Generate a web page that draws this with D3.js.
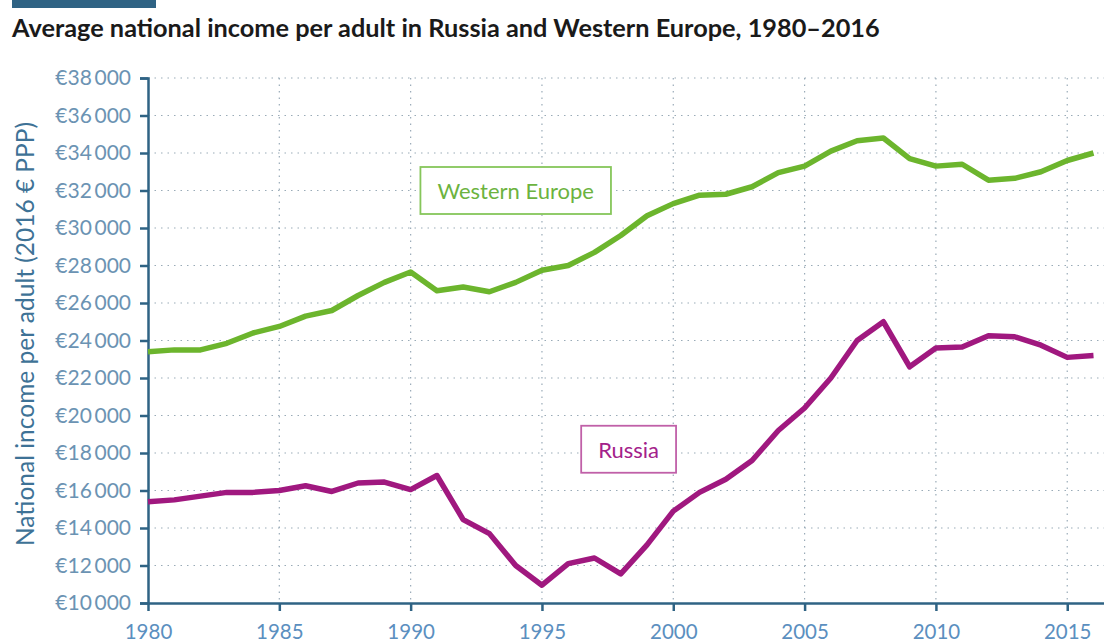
<!DOCTYPE html>
<html>
<head>
<meta charset="utf-8">
<script src="https://cdn.jsdelivr.net/npm/d3@7"></script>
<style>
  body { margin: 0; background: #fff; }
  svg { display: block; font-family: Lato, "Open Sans", sans-serif; }
</style>
</head>
<body>
<div id="chart"></div>
<script>
// Years on the x axis
var years = d3.range(1980, 2017);

// Average national income per adult (2016 € PPP)
var westernEurope = [23400, 23500, 23500, 23850, 24400, 24750, 25300, 25600, 26400, 27100,
    27650, 26650, 26850, 26600, 27100, 27750, 28000, 28700, 29600, 30650,
    31300, 31750, 31800, 32200, 32950, 33300, 34100, 34650, 34800, 33700,
    33300, 33400, 32550, 32650, 33000, 33600, 34000];
var russia = [15400, 15500, 15700, 15900, 15900, 16000, 16250, 15950, 16400, 16450,
    16050, 16800, 14450, 13700, 12000, 10950, 12100, 12400, 11550, 13100,
    14900, 15900, 16600, 17600, 19200, 20400, 22000, 24000, 25000, 22600,
    23600, 23650, 24250, 24200, 23750, 23100, 23200];

var yTicks = d3.range(10000, 38001, 2000);
var xTicks = [1980, 1985, 1990, 1995, 2000, 2005, 2010, 2015];

// Series labels: name, anchor year, anchor value
var seriesLabels = [
    { name: "Western Europe", year: 1994, value: 32000, color: "#6cb33f", border: "#86c65a" },
    { name: "Russia", year: 1998.3, value: 18200, color: "#a3218a", border: "#c060a8" }
];

var width = 1104, height = 644;
var axisColor = "#2f6384";

var svg = d3.select("#chart").append("svg")
    .attr("width", width)
    .attr("height", height);

// Partial header bar at top
svg.append("rect")
    .attr("x", 12).attr("y", 0)
    .attr("width", 144).attr("height", 8)
    .attr("fill", "#2f6384");

// Title
svg.append("text")
    .attr("x", 12).attr("y", 37)
    .attr("font-size", 25.3)
    .attr("font-weight", "bold")
    .attr("fill", "#1a1a1a")
    .text("Average national income per adult in Russia and Western Europe, 1980\u20132016");

// Scales
var x = d3.scaleLinear().domain([1980, 2016.4]).range([148, 1104]);
var y = d3.scaleLinear().domain([10000, 38000]).range([603, 78]);

// Grid lines
svg.append("g")
    .selectAll("line")
    .data(yTicks.slice(1))
    .join("line")
    .attr("x1", x(1980)).attr("x2", width)
    .attr("y1", d => y(d)).attr("y2", d => y(d))
    .attr("stroke", "#9aabb8")
    .attr("stroke-width", 1.2)
    .attr("stroke-dasharray", "1.5,5");

svg.append("g")
    .selectAll("line")
    .data(xTicks.slice(1))
    .join("line")
    .attr("x1", d => x(d)).attr("x2", d => x(d))
    .attr("y1", y(38000)).attr("y2", y(10000))
    .attr("stroke", "#9aabb8")
    .attr("stroke-width", 1.2)
    .attr("stroke-dasharray", "1.5,5");

// Format like "€38 000"
function euro(d) {
    var s = String(d);
    return "\u20ac" + s.slice(0, s.length - 3) + "\u2009" + s.slice(-3);
}

// Y axis
var yAxis = svg.append("g")
    .attr("transform", `translate(${x(1980)},0)`)
    .call(d3.axisLeft(y).tickValues(yTicks).tickFormat(euro).tickSize(8).tickPadding(9));
yAxis.select(".domain").attr("stroke", axisColor).attr("stroke-width", 2.5);
yAxis.selectAll("line").attr("stroke", axisColor).attr("stroke-width", 2.5);
yAxis.selectAll("text")
    .attr("fill", "#6b93b3")
    .attr("font-size", 21)
    .attr("font-family", "Lato, sans-serif");

// X axis
var xAxis = svg.append("g")
    .attr("transform", `translate(0,${y(10000)})`)
    .call(d3.axisBottom(x).tickValues(xTicks).tickFormat(d3.format("d")).tickSize(8).tickPadding(13).tickSizeOuter(0));
xAxis.select(".domain").attr("stroke", axisColor).attr("stroke-width", 2.5);
xAxis.selectAll("line").attr("stroke", axisColor).attr("stroke-width", 2.5);
xAxis.selectAll("text")
    .attr("fill", "#5b8fbf")
    .attr("font-size", 20.5)
    .attr("font-family", "Lato, sans-serif");

// Y axis title
svg.append("text")
    .attr("transform", "rotate(-90)")
    .attr("x", -334)
    .attr("y", 34)
    .attr("text-anchor", "middle")
    .attr("font-size", 24.5)
    .attr("fill", "#3e7296")
    .text("National income per adult (2016 \u20ac PPP)");

// Lines
var line = d3.line()
    .x((d, i) => x(years[i]))
    .y(d => y(d));

svg.append("path")
    .datum(westernEurope)
    .attr("fill", "none")
    .attr("stroke", "#6cb52d")
    .attr("stroke-width", 5.5)
    .attr("stroke-linejoin", "round")
    .attr("d", line);

svg.append("path")
    .datum(russia)
    .attr("fill", "none")
    .attr("stroke", "#a0187f")
    .attr("stroke-width", 5.5)
    .attr("stroke-linejoin", "round")
    .attr("d", line);

// Series labels in boxes
seriesLabels.forEach(function (lab) {
    var g = svg.append("g");
    var t = g.append("text")
        .attr("x", x(lab.year))
        .attr("y", y(lab.value))
        .attr("text-anchor", "middle")
        .attr("dominant-baseline", "central")
        .attr("font-size", 22)
        .attr("fill", lab.color)
        .text(lab.name);
    var bb = t.node().getBBox();
    g.insert("rect", "text")
        .attr("x", bb.x - 17)
        .attr("y", y(lab.value) - 23.5)
        .attr("width", bb.width + 34)
        .attr("height", 47)
        .attr("fill", "#fff")
        .attr("stroke", lab.border)
        .attr("stroke-width", 1.8);
});
</script>
</body>
</html>
